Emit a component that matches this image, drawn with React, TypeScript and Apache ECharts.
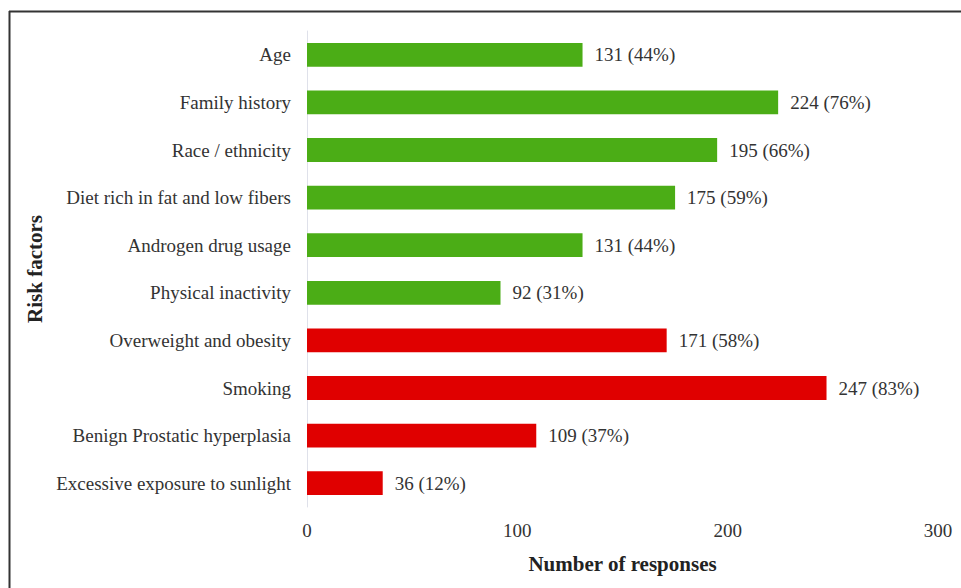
import React, { useEffect, useRef } from "react";
import * as echarts from "echarts";

const categories = [
  "Age",
  "Family history",
  "Race / ethnicity",
  "Diet rich in fat and low fibers",
  "Androgen drug usage",
  "Physical inactivity",
  "Overweight and obesity",
  "Smoking",
  "Benign Prostatic hyperplasia",
  "Excessive exposure to sunlight",
];
const responses = [131, 224, 195, 175, 131, 92, 171, 247, 109, 36];
const percents = ["44%", "76%", "66%", "59%", "44%", "31%", "58%", "83%", "37%", "12%"];
const groups = ["g", "g", "g", "g", "g", "g", "r", "r", "r", "r"];
const xTicks = [0, 100, 200, 300];

const GREEN = "#4bad16";
const RED = "#e00000";
const FONT = "'Liberation Serif', 'Times New Roman', serif";

export default function App() {
  const ref = useRef<HTMLDivElement>(null);
  useEffect(() => {
    if (!ref.current) return;
    const chart = echarts.init(ref.current, null, { renderer: "svg" });
    chart.setOption({
      animation: false,
      backgroundColor: "#ffffff",
      grid: { left: 307, right: 23, top: 31, bottom: 81, containLabel: false },
      xAxis: {
        type: "value",
        min: xTicks[0],
        max: xTicks[xTicks.length - 1],
        interval: 100,
        splitLine: { show: false },
        axisLine: { show: false },
        axisTick: { show: false },
        axisLabel: { fontFamily: FONT, fontSize: 19, color: "#333", margin: 14 },
        name: "Number of responses",
        nameLocation: "middle",
        nameGap: 46,
        nameTextStyle: { fontFamily: FONT, fontSize: 21, fontWeight: "bold", color: "#222" },
      },
      yAxis: {
        type: "category",
        data: categories,
        inverse: true,
        axisLine: { show: true, lineStyle: { color: "#dfe1ea", width: 1 } },
        axisTick: { show: false },
        axisLabel: { fontFamily: FONT, fontSize: 19, color: "#333", margin: 16 },
        name: "Risk factors",
        nameLocation: "middle",
        nameGap: 258,
        nameRotate: 90,
        nameTextStyle: { fontFamily: FONT, fontSize: 21, fontWeight: "bold", color: "#222" },
      },
      graphic: [
        { type: "line", shape: { x1: 9, y1: 11.5, x2: 961, y2: 11.5 }, style: { stroke: "#333", lineWidth: 2 } },
        { type: "line", shape: { x1: 9.5, y1: 11, x2: 9.5, y2: 588 }, style: { stroke: "#333", lineWidth: 2 } },
      ],
      series: [
        {
          type: "bar",
          barWidth: "50%",
          data: responses.map((v, i) => ({
            value: v,
            itemStyle: { color: groups[i] === "g" ? GREEN : RED },
          })),
          label: {
            show: true,
            position: "right",
            distance: 12,
            fontFamily: FONT,
            fontSize: 19,
            color: "#333",
            formatter: (p: any) => `${responses[p.dataIndex]} (${percents[p.dataIndex]})`,
          },
        },
      ],
    });
    return () => chart.dispose();
  }, []);
  return (
    <div
      ref={ref}
      style={{ position: "absolute", left: 0, top: 0, width: 961, height: 588 }}
    />
  );
}
